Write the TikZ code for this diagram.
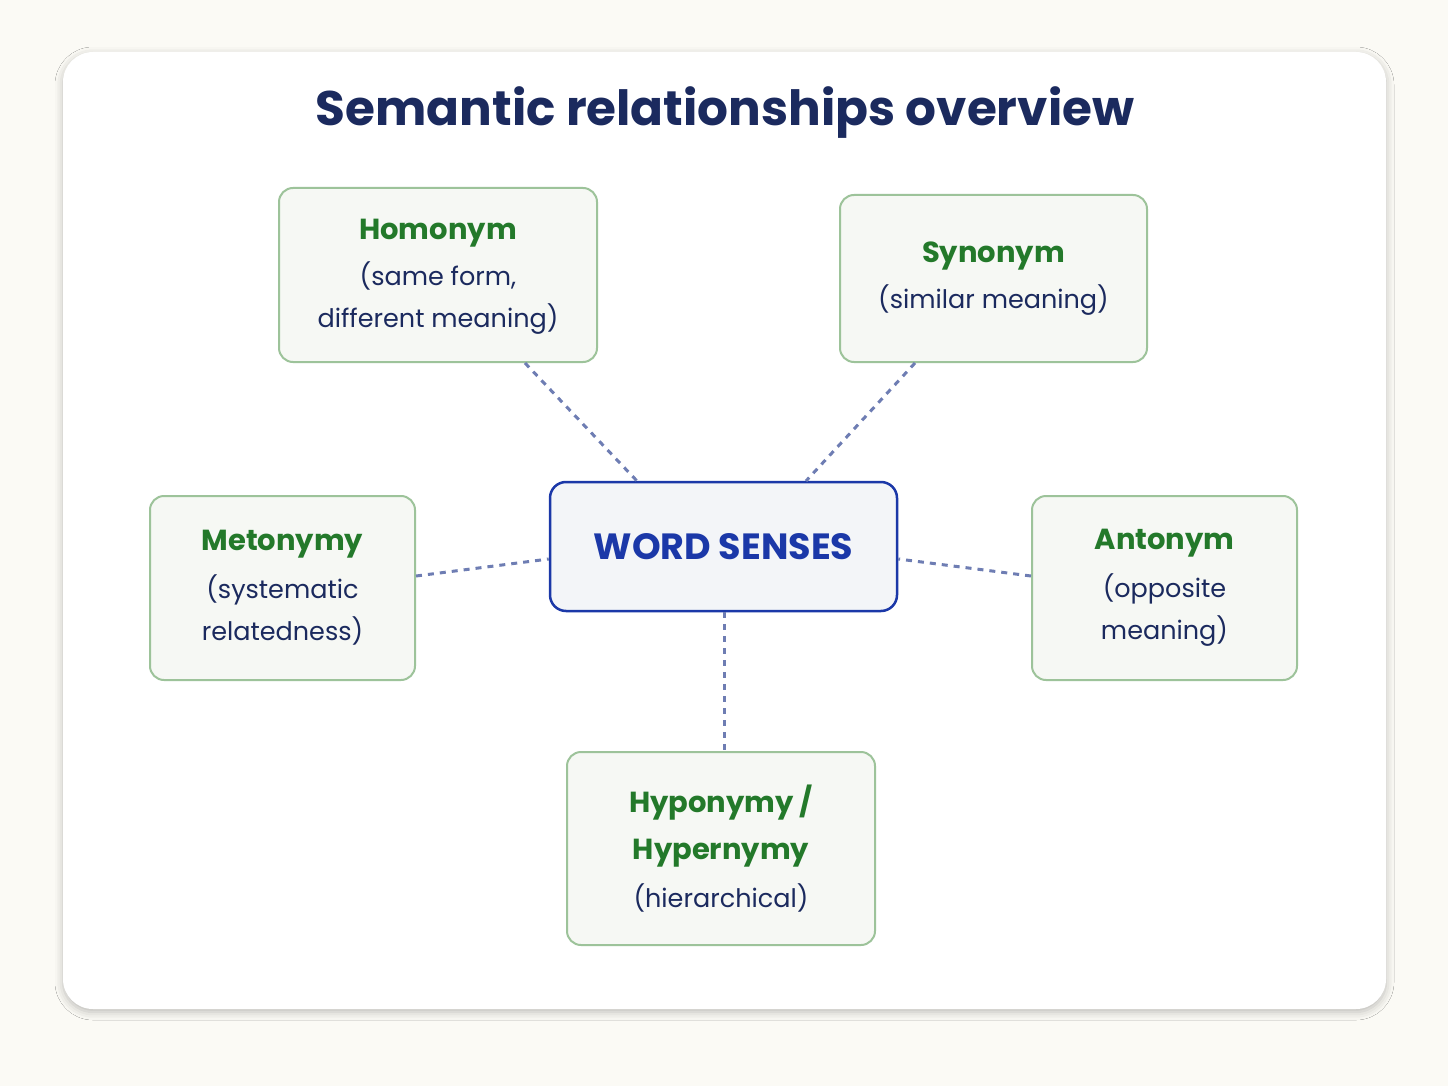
\documentclass[tikz,border=0pt]{standalone}
\usepackage{fontspec}
\setmainfont{Poppins}
\usetikzlibrary{shadows.blur}
\definecolor{bgc}{HTML}{FBFAF5}
\definecolor{navy}{HTML}{1B2A5E}
\definecolor{leaf}{HTML}{23792A}
\definecolor{leafline}{HTML}{9DC39A}
\definecolor{leaffill}{HTML}{F6F8F4}
\definecolor{royal}{HTML}{1B38A8}
\definecolor{corefill}{HTML}{F3F5F8}
\definecolor{link}{HTML}{6E7DB3}
\tikzset{
  leafbox/.style={draw=leafline, line width=2pt, fill=leaffill, rounded corners=14pt,
    align=center, inner sep=0pt, text=navy, font=\fontsize{25.5}{42}\selectfont},
  corebox/.style={draw=royal, line width=2.5pt, fill=corefill, rounded corners=16pt,
    align=center, inner sep=0pt, text=royal, font=\bfseries\fontsize{36.5}{40}\selectfont},
  link/.style={draw=link, line width=3pt, dash pattern=on 6pt off 6pt},
}
\newcommand{\hd}[1]{{\color{leaf}\bfseries\fontsize{29}{42}\selectfont #1}}
\begin{document}
\begin{tikzpicture}[x=1pt,y=-1pt]
\useasboundingbox (0,0) rectangle (1448,1086);
\fill[bgc] (0,0) rectangle (1448,1086);
\node[fill=white, rounded corners=30pt, minimum width=1323pt, minimum height=957pt,
  inner sep=0pt, blur shadow={shadow xshift=0pt, shadow yshift=-3pt, shadow blur radius=8pt, shadow opacity=25}]
  (card) at (724.5,530.5) {};
\node[text=navy, font=\bfseries\fontsize{48.5}{50}\selectfont] (title) at (725,113) {Semantic relationships overview};

\node[corebox, minimum width=347pt, minimum height=129pt] (core) at (723.5,546.5) {WORD SENSES};

\node[leafbox, minimum width=318pt, minimum height=174pt, text depth=3pt] (homo) at (438,275)
  {\hd{Homonym}\\[4pt](same form,\\different meaning)};
\node[leafbox, minimum width=307pt, minimum height=167pt] (syno) at (993.5,278.5)
  {\hd{Synonym}\\[4pt](similar meaning)};
\node[leafbox, minimum width=265pt, minimum height=184pt] (meto) at (282.5,588)
  {\hd{Metonymy}\\[6pt](systematic\\relatedness)};
\node[leafbox, minimum width=265pt, minimum height=184pt] (anto) at (1164.5,588)
  {\hd{Antonym}\\[6pt](opposite\\meaning)};
\node[leafbox, minimum width=308pt, minimum height=193pt] (hypo) at (721,848.5)
  {\hd{Hyponymy /}\\[5pt]\hd{Hypernymy}\\[6pt](hierarchical)};

\coordinate (c1) at (637,481);
\coordinate (c2) at (806,481);
\coordinate (h1) at (525,363);
\coordinate (s1) at (915,363);
\draw[link] (h1) -- (c1);
\draw[link] (s1) -- (c2);
\draw[link] (meto.east |- 0,576) -- (core.west |- 0,559);
\draw[link] (anto.west |- 0,576) -- (core.east |- 0,559);
\draw[link] (core.south -| 724,0) -- (hypo.north -| 724,0);
\end{tikzpicture}
\end{document}
